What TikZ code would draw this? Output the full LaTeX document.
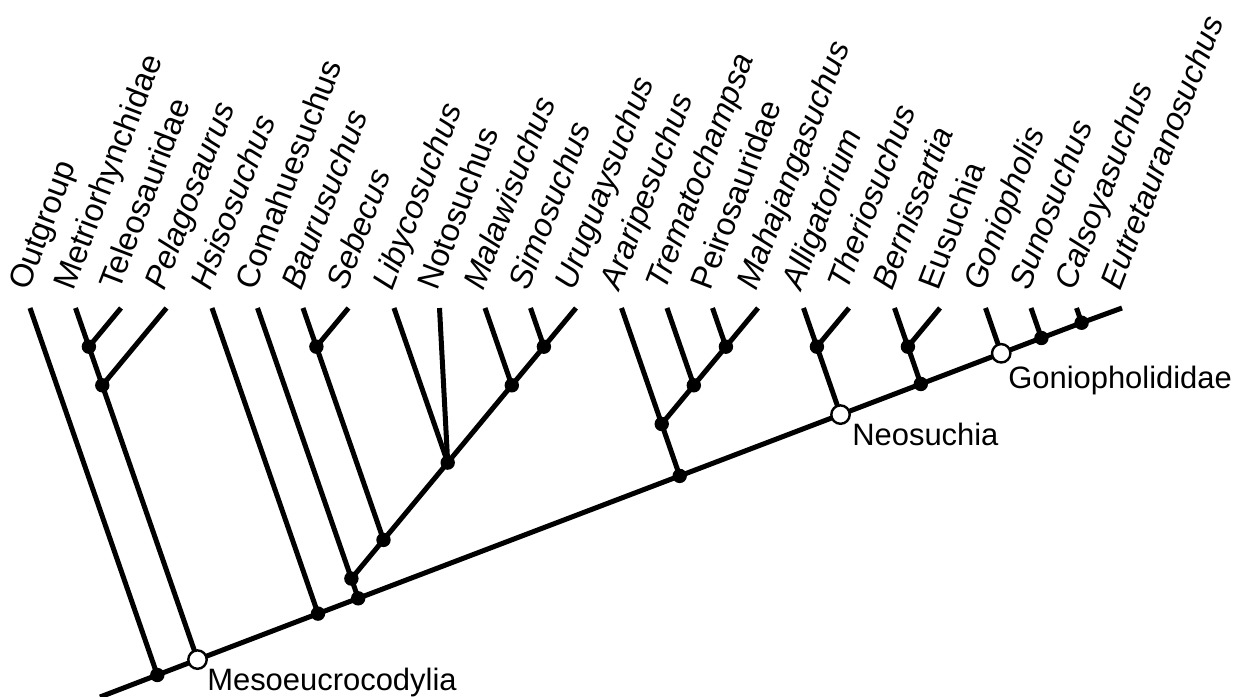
\documentclass[tikz,border=0pt]{standalone}
\usepackage{fontspec}
\setmainfont{Liberation Sans}
\usepackage{tikz}
\usetikzlibrary{positioning}

\begin{document}
\begin{tikzpicture}[x=0.025cm, y=-0.025cm,
    branch/.style={line width=0.125cm},
    dot/.style={circle, fill=black, inner sep=0pt, minimum size=0.36cm},
    emptydot/.style={circle, draw=black, fill=white, line width=0.06cm, inner sep=0pt, minimum size=0.46cm},
    taxon/.style={rotate=69, anchor=base west, inner sep=0pt, font=\fontsize{23}{27}\selectfont},
    clade/.style={anchor=base west, inner sep=0pt, font=\fontsize{22}{26}\selectfont}]
    \useasboundingbox (0,0) rectangle (1240,696);
    % tips and names
    \foreach \lab/\sh [count=\i from 0] in {Outgroup/\upshape, Metriorhynchidae/\upshape,
        Teleosauridae/\upshape, Pelagosaurus/\itshape, Hsisosuchus/\itshape,
        Comahuesuchus/\upshape, Baurusuchus/\itshape, Sebecus/\itshape,
        Libycosuchus/\itshape, Notosuchus/\upshape, Malawisuchus/\itshape,
        Simosuchus/\itshape, Uruguaysuchus/\itshape, Araripesuchus/\itshape,
        Trematochampsa/\itshape, Peirosauridae/\upshape, Mahajangasuchus/\itshape,
        Alligatorium/\itshape, Theriosuchus/\itshape, Bernissartia/\itshape,
        Eusuchia/\upshape, Goniopholis/\itshape, Sunosuchus/\itshape,
        Calsoyasuchus/\itshape, Eutretauranosuchus/\itshape}{
      \coordinate (t\i) at ({30+45.5*\i}, 308);
      \node[taxon] (l\i) at ({28+45.5*\i}, 292) {\sh\lab};
    }
    % branching points
    \coordinate (root) at (100,697);
    \coordinate (out) at (157.3,675);
    \coordinate (meso) at (197.5,659.6);
    \coordinate (mt) at (88.9,346.7);
    \coordinate (mtp) at (102.3,385.3);
    \coordinate (hsi) at (318,613.6);
    \coordinate (basal) at (358.2,598.3);
    \coordinate (coma) at (351.4,578.6);
    \coordinate (bs) at (316.4,346.7);
    \coordinate (bsr) at (383.5,539.9);
    \coordinate (lib) at (447.7,462.6);
    \coordinate (mal) at (511.8,385.3);
    \coordinate (su) at (543.9,346.7);
    \coordinate (big) at (679.7,475.9);
    \coordinate (ara) at (661.7,424);
    \coordinate (tre) at (693.8,385.3);
    \coordinate (pm) at (725.9,346.7);
    \coordinate (at) at (816.9,346.7);
    \coordinate (neo) at (840.5,414.6);
    \coordinate (be) at (907.9,346.7);
    \coordinate (eus) at (920.8,384);
    \coordinate (gon) at (1001.2,353.3);
    \coordinate (sun) at (1041.4,338);
    \coordinate (cal) at (1081.6,322.75);
    % branches
    \draw[branch] (root) -- (out) -- (meso) -- (hsi) -- (basal) -- (big) -- (neo)
      -- (eus) -- (gon) -- (sun) -- (cal) -- (t24);
    \draw[branch] (out) -- (t0);
    \draw[branch] (meso) -- (mtp) -- (mt) -- (t1);
    \draw[branch] (mt) -- (t2);
    \draw[branch] (mtp) -- (t3);
    \draw[branch] (hsi) -- (t4);
    \draw[branch] (basal) -- (coma) -- (t5);
    \draw[branch] (coma) -- (bsr) -- (lib) -- (mal) -- (su) -- (t12);
    \draw[branch] (bsr) -- (bs) -- (t6);
    \draw[branch] (bs) -- (t7);
    \draw[branch] (lib) -- (t8);
    \draw[branch] (lib) -- (t9);
    \draw[branch] (mal) -- (t10);
    \draw[branch] (su) -- (t11);
    \draw[branch] (big) -- (ara) -- (t13);
    \draw[branch] (ara) -- (tre) -- (pm) -- (t16);
    \draw[branch] (tre) -- (t14);
    \draw[branch] (pm) -- (t15);
    \draw[branch] (neo) -- (at) -- (t17);
    \draw[branch] (at) -- (t18);
    \draw[branch] (eus) -- (be) -- (t19);
    \draw[branch] (be) -- (t20);
    \draw[branch] (gon) -- (t21);
    \draw[branch] (sun) -- (t22);
    \draw[branch] (cal) -- (t23);
    % nodes
    \foreach \n in {out, mt, mtp, hsi, basal, coma, bs, bsr, lib, mal, su,
        big, ara, tre, pm, at, be, eus, sun, cal}
      \node[dot] (d-\n) at (\n) {};
    \foreach \n in {meso, neo, gon}
      \node[emptydot] (d-\n) at (\n) {};
    % clade names
    \node[clade] (meso-name) at (207,690) {Mesoeucrocodylia};
    \node[clade] (neo-name) at (852,445) {Neosuchia};
    \node[clade] (gon-name) at (1008,388) {Goniopholididae};
\end{tikzpicture}
\end{document}
